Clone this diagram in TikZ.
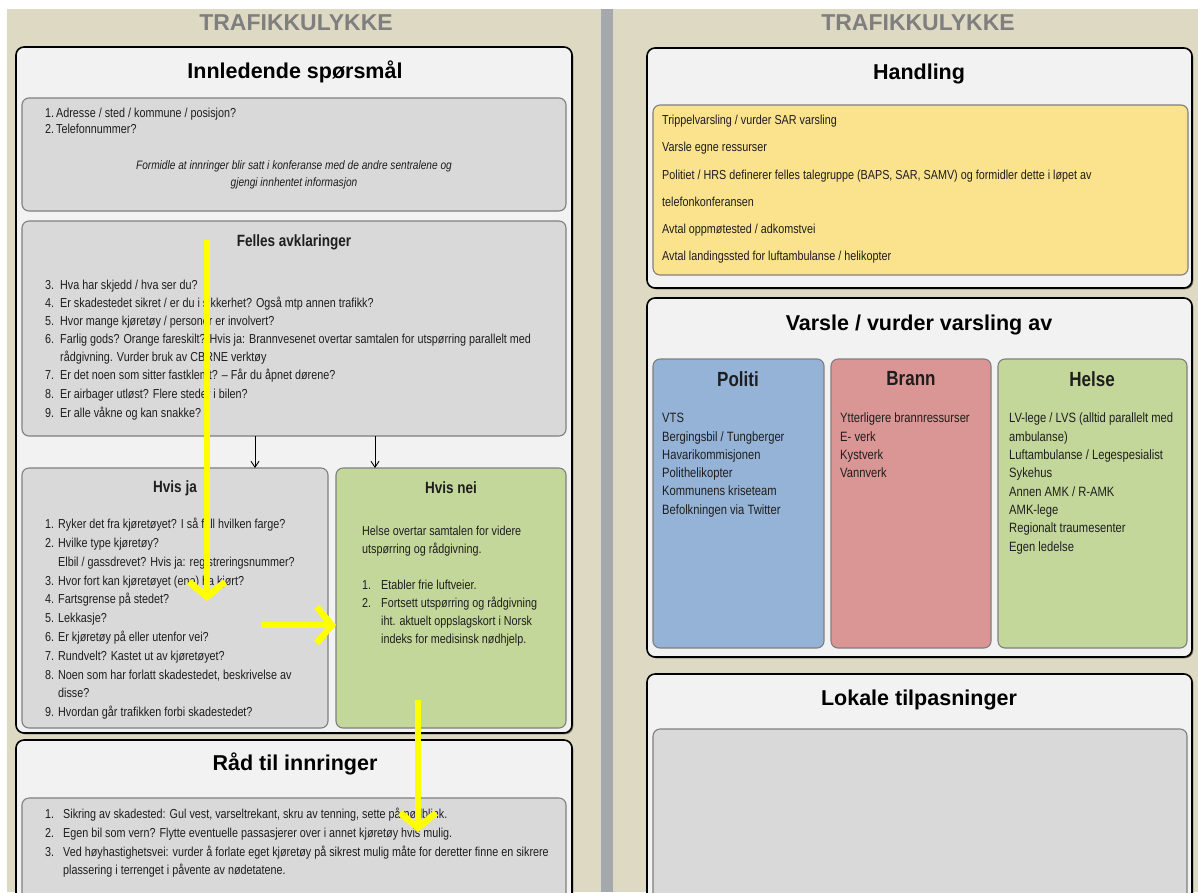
\documentclass[tikz,border=0pt]{standalone}
\usepackage{fontspec}
\setmainfont{Liberation Sans}
\newfontfamily\narrow[FakeStretch=0.83]{Liberation Sans}
\usetikzlibrary{arrows.meta,shadows}
\definecolor{beige}{HTML}{DDD9C3}
\definecolor{panel}{HTML}{F2F2F2}
\definecolor{innergray}{HTML}{D9D9D9}
\definecolor{bordergray}{HTML}{7F7F7F}
\definecolor{titlegray}{HTML}{7F7F7F}
\definecolor{stripgray}{HTML}{A5A9AD}
\definecolor{hyellow}{HTML}{FBE28D}
\definecolor{pblue}{HTML}{95B3D7}
\definecolor{bred}{HTML}{D99694}
\definecolor{hgreen}{HTML}{C4D79B}
\definecolor{annot}{HTML}{FFFF00}
\definecolor{txt}{HTML}{1E1E1E}
\newcommand{\nb}[2][14pt]{\makebox[#1][l]{#2}}
\newcommand{\tp}{\rule{0pt}{9.5pt}}
\begin{document}
\begin{tikzpicture}[x=1pt,y=-1pt,
  panelbox/.style={anchor=north west, inner sep=0pt, outer sep=0pt, rounded corners=#1},
  outerbox/.style={panelbox=8pt, draw=black, line width=1.6pt, fill=panel,
     drop shadow={shadow xshift=1.3pt, shadow yshift=-1.3pt, fill=black, opacity=0.45}},
  innerbox/.style={panelbox=7pt, draw=bordergray, line width=1.1pt, fill=innergray},
  bigtitle/.style={font=\bfseries\fontsize{23}{26}\selectfont, text=titlegray, inner sep=0pt},
  head/.style={font=\bfseries\fontsize{21.5}{24}\selectfont, inner sep=0pt},
  subhead/.style={font=\narrow\bfseries\fontsize{16.3}{19}\selectfont, inner sep=0pt, text=txt},
  colhead/.style={font=\narrow\bfseries\fontsize{20.5}{24}\selectfont, inner sep=0pt, text=txt},
  txtblock/.style={font=\narrow\fontsize{13}{#1}\selectfont, align=left, inner sep=0pt, anchor=north west, text=txt},
  annotarrow/.style={draw=annot, line width=6.5pt, -{Straight Barb[length=15pt, width=36pt, line width=6.5pt]}},
  flow/.style={draw=black, line width=0.9pt, -{Straight Barb[length=6pt, width=8pt]}}
]
\useasboundingbox (0,0) rectangle (1198,892);
\clip (0,0) rectangle (1198,892);
% background
\fill[beige] (0,0) rectangle (1198,892);
\fill[white] (0,0) rectangle (1198,9);
\fill[white] (0,9) rectangle (7,892);
\fill[stripgray] (601,9) rectangle (613,892);

% ================= LEFT =================
\node[bigtitle] (ltitle) at (296,23) {TRAFIKKULYKKE};

\node[outerbox, minimum width=556pt, minimum height=686pt] (innl) at (16,47) {};
\node[head] (innlhead) at (295,72) {Innledende spørsmål};

\node[innerbox, minimum width=544pt, minimum height=113pt] (b1) at (22,98) {};
\node[txtblock=16] (q12) at (45,108) {\tp\nb[11pt]{1.}Adresse / sted / kommune / posisjon?\\\nb[11pt]{2.}Telefonnummer?};
\node[font=\narrow\itshape\fontsize{12.2}{17}\selectfont, align=center, inner sep=0pt, text=txt] (formidle) at (294,175)
  {Formidle at innringer blir satt i konferanse med de andre sentralene og\\gjengi innhentet informasjon};

\node[innerbox, minimum width=544pt, minimum height=215pt] (felles) at (22,221) {};
\node[subhead] (felleshead) at (294,242) {Felles avklaringer};
\node[txtblock=18] (q39) at (45,280) {\tp\nb[15pt]{3.}Hva har skjedd / hva ser du?\\
\nb[15pt]{4.}Er skadestedet sikret / er du i sikkerhet? Også mtp annen trafikk?\\
\nb[15pt]{5.}Hvor mange kjøretøy / personer er involvert?\\
\nb[15pt]{6.}Farlig gods? Orange fareskilt? Hvis ja: Brannvesenet overtar samtalen for utspørring parallelt med\\
\nb[15pt]{}rådgivning. Vurder bruk av CBRNE verktøy\\
\nb[15pt]{7.}Er det noen som sitter fastklemt? – Får du åpnet dørene?\\[1pt]
\nb[15pt]{8.}Er airbager utløst? Flere steder i bilen?\\[1pt]
\nb[15pt]{9.}Er alle våkne og kan snakke?};

\node[innerbox, minimum width=306pt, minimum height=260pt] (hvisja) at (22,468) {};
\node[subhead] (hvisjahead) at (175,488) {Hvis ja};
\node[txtblock=18.8] (ja) at (45,518) {\tp\nb[13pt]{1.}Ryker det fra kjøretøyet? I så fall hvilken farge?\\
\nb[13pt]{2.}Hvilke type kjøretøy?\\
\nb[13pt]{}Elbil / gassdrevet? Hvis ja: registreringsnummer?\\
\nb[13pt]{3.}Hvor fort kan kjøretøyet (ene) ha kjørt?\\
\nb[13pt]{4.}Fartsgrense på stedet?\\
\nb[13pt]{5.}Lekkasje?\\
\nb[13pt]{6.}Er kjøretøy på eller utenfor vei?\\
\nb[13pt]{7.}Rundvelt? Kastet ut av kjøretøyet?\\
\nb[13pt]{8.}Noen som har forlatt skadestedet, beskrivelse av\\
\nb[13pt]{}disse?\\
\nb[13pt]{9.}Hvordan går trafikken forbi skadestedet?};

\node[innerbox, fill=hgreen, minimum width=230pt, minimum height=260pt] (hvisnei) at (336,468) {};
\node[subhead] (hvisneihead) at (451,488) {Hvis nei};
\node[txtblock=18] (nei) at (362,526) {\tp Helse overtar samtalen for videre\\
utspørring og rådgivning.\\[18pt]
\nb[19pt]{1.}Etabler frie luftveier.\\
\nb[19pt]{2.}Fortsett utspørring og rådgivning\\
\nb[19pt]{}iht. aktuelt oppslagskort i Norsk\\
\nb[19pt]{}indeks for medisinsk nødhjelp.};

\draw[flow] ([xshift=-39pt]felles.south) -- ([xshift=-39pt]felles.south |- hvisja.north);
\draw[flow] ([xshift=81pt]felles.south) -- ([xshift=81pt]felles.south |- hvisnei.north);

\node[outerbox, minimum width=556pt, minimum height=170pt] (rad) at (16,740) {};
\node[head] (radhead) at (295,764) {Råd til innringer};
\node[innerbox, minimum width=544pt, minimum height=112pt] (radin) at (22,798) {};
\node[txtblock=18.7] (raditems) at (45,808) {\tp\nb[18pt]{1.}Sikring av skadested: Gul vest, varseltrekant, skru av tenning, sette på nødblink.\\
\nb[18pt]{2.}Egen bil som vern? Flytte eventuelle passasjerer over i annet kjøretøy hvis mulig.\\
\nb[18pt]{3.}Ved høyhastighetsvei: vurder å forlate eget kjøretøy på sikrest mulig måte for deretter finne en sikrere\\
\nb[18pt]{}plassering i terrenget i påvente av nødetatene.};

% yellow annotation arrows
\coordinate (a1s) at (207,240);
\coordinate (a1e) at (207,601);
\coordinate (a2s) at (261,625);
\coordinate (a2e) at (336,625);
\coordinate (a3s) at (418,700);
\coordinate (a3e) at (418,832);
\draw[annotarrow] (a1s) -- (a1e);
\draw[annotarrow] (a2s) -- (a2e);
\draw[annotarrow] (a3s) -- (a3e);

% ================= RIGHT =================
\node[bigtitle] (rtitle) at (918,23) {TRAFIKKULYKKE};

\node[outerbox, minimum width=545pt, minimum height=240pt] (handling) at (647,48) {};
\node[head] (handlinghead) at (919,74) {Handling};
\node[innerbox, fill=hyellow, minimum width=535pt, minimum height=170pt] (yellowbox) at (653,105) {};
\node[txtblock=27.2] (handitems) at (662,115) {\tp Trippelvarsling / vurder SAR varsling\\
Varsle egne ressurser\\
Politiet / HRS definerer felles talegruppe (BAPS, SAR, SAMV) og formidler dette i løpet av\\
telefonkonferansen\\
Avtal oppmøtested / adkomstvei\\
Avtal landingssted for luftambulanse / helikopter};

\node[outerbox, minimum width=545pt, minimum height=359pt] (varsle) at (647,298) {};
\node[head] (varslehead) at (919,325) {Varsle / vurder varsling av};

\node[innerbox, fill=pblue, minimum width=171pt, minimum height=289pt] (politi) at (653,359) {};
\node[colhead] (politihead) at (738,379) {Politi};
\node[txtblock=18.3, font=\narrow\fontsize{13.5}{18.3}\selectfont] (politiitems) at (662,413) {\tp VTS\\
Bergingsbil / Tungberger\\
Havarikommisjonen\\
Polithelikopter\\
Kommunens kriseteam\\
Befolkningen via Twitter};

\node[innerbox, fill=bred, minimum width=160pt, minimum height=289pt] (brann) at (831,359) {};
\node[colhead] (brannhead) at (911,379) {Brann};
\node[txtblock=18.3, font=\narrow\fontsize{13.5}{18.3}\selectfont] (brannitems) at (840,413) {\tp Ytterligere brannressurser\\
E- verk\\
Kystverk\\
Vannverk};

\node[innerbox, fill=hgreen, minimum width=189pt, minimum height=289pt] (helse) at (998,359) {};
\node[colhead] (helsehead) at (1092,379) {Helse};
\node[txtblock=18.3, font=\narrow\fontsize{13.5}{18.3}\selectfont] (helseitems) at (1009,413) {\tp LV-lege / LVS (alltid parallelt med\\
ambulanse)\\
Luftambulanse / Legespesialist\\
Sykehus\\
Annen AMK / R-AMK\\
AMK-lege\\
Regionalt traumesenter\\
Egen ledelse};

\node[outerbox, minimum width=545pt, minimum height=236pt] (lokale) at (647,674) {};
\node[head] (lokalehead) at (919,700) {Lokale tilpasninger};
\node[innerbox, minimum width=534pt, minimum height=181pt] (lokin) at (653,729) {};
\end{tikzpicture}
\end{document}
